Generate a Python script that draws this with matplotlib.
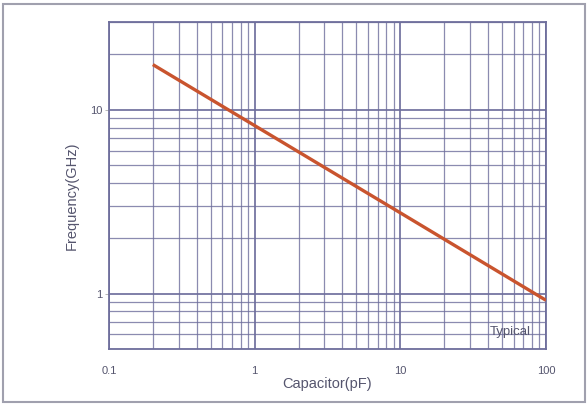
import matplotlib.pyplot as plt
from matplotlib.patches import Rectangle
from matplotlib.ticker import FixedLocator, NullFormatter

plt.rcParams['font.family'] = ['Liberation Sans', 'DejaVu Sans']

# === Data ===
capacitance = [0.2, 1, 10, 100]          # pF
frequency = [17.6, 8.2, 2.75, 0.92]      # GHz

x_ticks = [0.1, 1, 10, 100]
x_tick_labels = ["0.1", "1", "10", "100"]
y_ticks = [1, 10]
y_tick_labels = ["1", "10"]

grid_col = "#6e6e9c"
text_col = "#55556e"
line_col = "#c9542e"

fig = plt.figure(figsize=(5.88, 4.05), dpi=100)
ax = fig.add_axes([109 / 588, 1 - 349 / 405, 437 / 588, 327 / 405])

ax.plot(capacitance, frequency, color=line_col, lw=2.4, solid_capstyle="butt", zorder=3)

ax.set_xscale("log")
ax.set_yscale("log")
ax.set_xlim(0.1, 100)
ax.set_ylim(0.5, 30)

# major / minor grid
x_minor = [m * 10.0 ** e for e in (-1, 0, 1) for m in range(2, 10)]
y_minor = [0.5, 0.6, 0.7, 0.8, 0.9] + [m for m in range(2, 10)] + [20, 30]
ax.xaxis.set_major_locator(FixedLocator(x_ticks))
ax.yaxis.set_major_locator(FixedLocator(y_ticks))
ax.xaxis.set_minor_locator(FixedLocator(x_minor))
ax.yaxis.set_minor_locator(FixedLocator(y_minor))
ax.xaxis.set_minor_formatter(NullFormatter())
ax.yaxis.set_minor_formatter(NullFormatter())
ax.set_xticklabels(x_tick_labels)
ax.set_yticklabels(y_tick_labels)

ax.grid(True, which="major", color=grid_col, lw=1.3, alpha=0.95)
ax.grid(True, which="minor", color=grid_col, lw=0.9, alpha=0.8)

ax.tick_params(which="major", axis="y", length=3, width=0.6, color="#aaaaaa",
               labelsize=8, labelcolor=text_col, pad=2)
ax.tick_params(which="major", axis="x", length=0, labelsize=8,
               labelcolor=text_col, pad=12)
ax.tick_params(which="minor", length=0)

for s in ax.spines.values():
    s.set_color(grid_col)
    s.set_linewidth(1.3)

fig.text(327 / 588, 1 - 384 / 405, "Capacitor(pF)", ha="center", va="center",
         fontsize=10.5, color=text_col)
fig.text(72 / 588, 1 - 196 / 405, "Frequency(GHz)", ha="center", va="center",
         rotation=90, fontsize=10.5, color=text_col)
ax.text(510 / 588, 1 - 332 / 405, "Typical", transform=fig.transFigure,
        ha="center", va="center", fontsize=9.5, color=text_col, zorder=4)

# outer frame of the picture
fig.patches.append(Rectangle((3 / 588, 3 / 405), 582 / 588, 398 / 405,
                             transform=fig.transFigure, fill=False,
                             edgecolor="#a0a0ae", lw=1.5))

fig.savefig("out.png", dpi=100)
